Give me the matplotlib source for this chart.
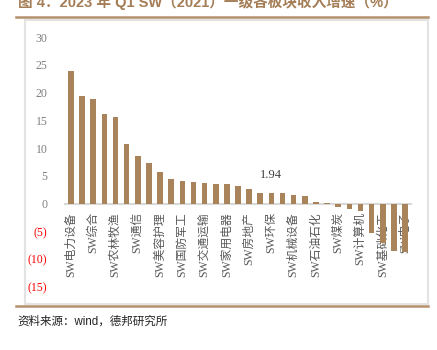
import matplotlib
matplotlib.use("Agg")
import matplotlib.pyplot as plt
from matplotlib.patches import Rectangle
from matplotlib.lines import Line2D

categories = ["SW电力设备", "SW社会服务", "SW综合", "SW汽车", "SW农林牧渔", "SW公用事业",
              "SW通信", "SW食品饮料", "SW美容护理", "SW医药生物", "SW国防军工", "SW建筑装饰",
              "SW交通运输", "SW商贸零售", "SW家用电器", "SW传媒", "SW房地产", "SW非银金融",
              "SW环保", "SW银行", "SW机械设备", "SW建筑材料", "SW石油石化", "SW轻工制造",
              "SW煤炭", "SW有色金属", "SW计算机", "SW纺织服饰", "SW基础化工", "SW钢铁", "SW电子"]
values = [23.9, 19.4, 18.8, 16.2, 15.6, 10.8,
          8.6, 7.35, 5.7, 4.5, 4.15, 3.9,
          3.8, 3.6, 3.55, 3.13, 2.6, 1.98,
          1.94, 1.93, 1.5, 1.45, 0.25, 0.05,
          -0.65, -0.97, -1.33, -5.3, -7.1, -8.6, -8.7]
y_ticks = [-15, -10, -5, 0, 5, 10, 15, 20, 25, 30]
annotated_index = 18
title = "图 4：2023 年 Q1 SW（2021）一级各板块收入增速（%）"
source = "资料来源：wind，德邦研究所"

W, H = 437, 350
fig = plt.figure(figsize=(W / 100, H / 100), dpi=100)

serif = ["Liberation Serif", "Noto Sans CJK SC"]
sans = ["Liberation Sans", "Noto Sans CJK SC"]

def fx(px):
    return px / W

def fy(py):
    return 1 - py / H

# frame box
fig.patches.append(Rectangle((fx(25), fy(304)), fx(428) - fx(25), fy(19.5) - fy(304),
                             transform=fig.transFigure, fill=False,
                             edgecolor="#e3e3e3", linewidth=1.5, zorder=0))
# brown rules
brown = "#b4906c"
fig.lines.append(Line2D([fx(16), fx(428)], [fy(16.7), fy(16.7)], transform=fig.transFigure,
                        color=brown, linewidth=1.8))
fig.lines.append(Line2D([fx(16), fx(428)], [fy(305.5), fy(305.5)], transform=fig.transFigure,
                        color=brown, linewidth=1.8))

fig.text(fx(18), fy(7.5), title, family=sans, fontweight="bold", fontsize=10.5,
         color="#a47c55", ha="left", va="baseline")
fig.text(fx(17), fy(322), source, family=sans, fontsize=8.3, color="#222222",
         ha="left", va="center")

ax = fig.add_axes([fx(65.4), fy(287), fx(410.6) - fx(65.4), fy(37) - fy(287)])
x = list(range(len(categories)))
ax.bar(x, values, width=0.5, color="#a9845b", zorder=2)
ax.set_xlim(-0.5, len(categories) - 0.5)
ax.set_ylim(-15, 30)

for s in ["top", "right", "left"]:
    ax.spines[s].set_visible(False)
ax.spines["bottom"].set_position(("data", 0))
ax.spines["bottom"].set_color("#d9d9d9")
ax.spines["bottom"].set_linewidth(1.5)
ax.spines["bottom"].set_zorder(1)

ax.set_xticks(x)
ax.set_xticklabels(categories, rotation=90, ha="center", va="top",
                   family=serif, fontsize=8.5, color="#595959")
for i, lab in enumerate(ax.get_xticklabels()):
    if i % 2 == 1:
        lab.set_visible(False)
ax.tick_params(axis="x", length=0, pad=6)

ax.set_yticks(y_ticks)
ylabels = [f"({-v})" if v < 0 else f"{v}" for v in y_ticks]
ax.set_yticklabels(ylabels, family=serif, fontsize=8.5)
for v, lab in zip(y_ticks, ax.get_yticklabels()):
    lab.set_color("#ff0000" if v < 0 else "#7f7f7f")
ax.tick_params(axis="y", length=0, pad=13)

ax.annotate(f"{values[annotated_index]:.2f}", (annotated_index, values[annotated_index]),
            xytext=(0, 8.5), textcoords="offset points", ha="center", va="bottom",
            family=serif, fontsize=9, color="#404040")

fig.savefig("out.png", dpi=100)
